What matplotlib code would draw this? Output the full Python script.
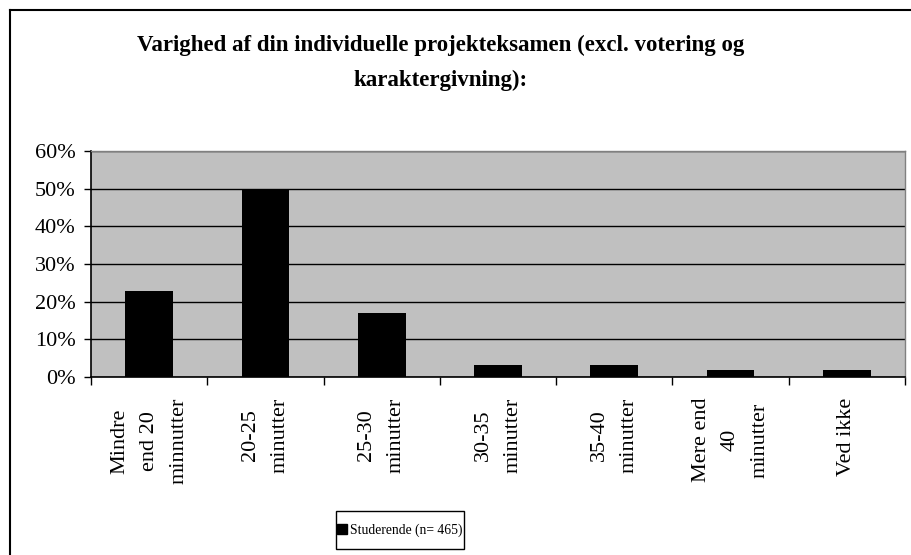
import matplotlib
matplotlib.use("Agg")
from matplotlib import pyplot as plt
from matplotlib.lines import Line2D
from matplotlib.patches import Patch, Rectangle
from matplotlib.ticker import FixedLocator, FuncFormatter

# Data
categories = ["Mindre\nend 20\nminnutter", "20-25\nminutter", "25-30\nminutter",
              "30-35\nminutter", "35-40\nminutter", "Mere end\n40\nminutter", "Ved ikke"]
values = [22.9, 50.0, 17.0, 3.3, 3.3, 1.8, 1.8]
y_ticks = [0, 10, 20, 30, 40, 50, 60]
series_name = "Studerende (n= 465)"
title = "Varighed af din individuelle projekteksamen (excl. votering og\nkaraktergivning):"

plt.rcParams['font.family'] = ['Liberation Serif', 'DejaVu Serif']

fig = plt.figure(figsize=(9.11, 5.55), dpi=100)
ax = fig.add_axes([91/911, 1 - 377/555, (905-91)/911, (377-151)/555])

x = list(range(len(categories)))
ax.bar(x, values, width=0.41, color='black', zorder=3)

ax.set_facecolor('#c0c0c0')
ax.set_xlim(-0.5, len(categories) - 0.5)
ax.set_ylim(0, 60)
ax.set_yticks(y_ticks)
ax.yaxis.set_major_formatter(FuncFormatter(lambda v, p: "%d%%" % v))
ax.yaxis.grid(True, color='black', linewidth=1, zorder=1)
ax.tick_params(axis='y', direction='out', length=5, width=1, labelsize=16, pad=6)

# category labels sit between boundary ticks
ax.set_xticks(x)
ax.set_xticklabels(categories, rotation=90, va='top', ha='center',
                   multialignment='center', fontsize=16, linespacing=1.75)
ax.xaxis.set_minor_locator(FixedLocator([i - 0.5 for i in range(len(categories) + 1)]))
ax.tick_params(axis='x', which='major', length=0, pad=15)
ax.tick_params(axis='x', which='minor', direction='out', length=6, width=1)

for side in ['top', 'right']:
    ax.spines[side].set_color('#808080')
    ax.spines[side].set_linewidth(1)
for side in ['left', 'bottom']:
    ax.spines[side].set_color('black')
    ax.spines[side].set_linewidth(1.2)

fig.text(441/911, 1 - 63/555, title, ha='center', va='center', fontsize=16.5,
         fontweight='bold', linespacing=1.9)

# legend: tight entry inside a taller box
leg = fig.legend(handles=[Patch(facecolor='black', edgecolor='black', label=series_name)],
                 loc='center', bbox_to_anchor=(400/911, 1 - 530/555), fontsize=9.8,
                 frameon=False, handlelength=0.75, handleheight=0.75, handletextpad=0.2,
                 borderpad=0.2)
fig.add_artist(Rectangle((336/911, 1 - 549/555), 128/911, 38/555, transform=fig.transFigure,
                         facecolor='none', edgecolor='black', linewidth=1))

# outer chart border (left and top visible)
fig.add_artist(Line2D([9.5/911, 9.5/911], [0, 1 - 9.5/555], color='black', linewidth=1.5))
fig.add_artist(Line2D([9.5/911, 1], [1 - 9.5/555, 1 - 9.5/555], color='black', linewidth=1.5))

fig.savefig('out.png', dpi=100)
